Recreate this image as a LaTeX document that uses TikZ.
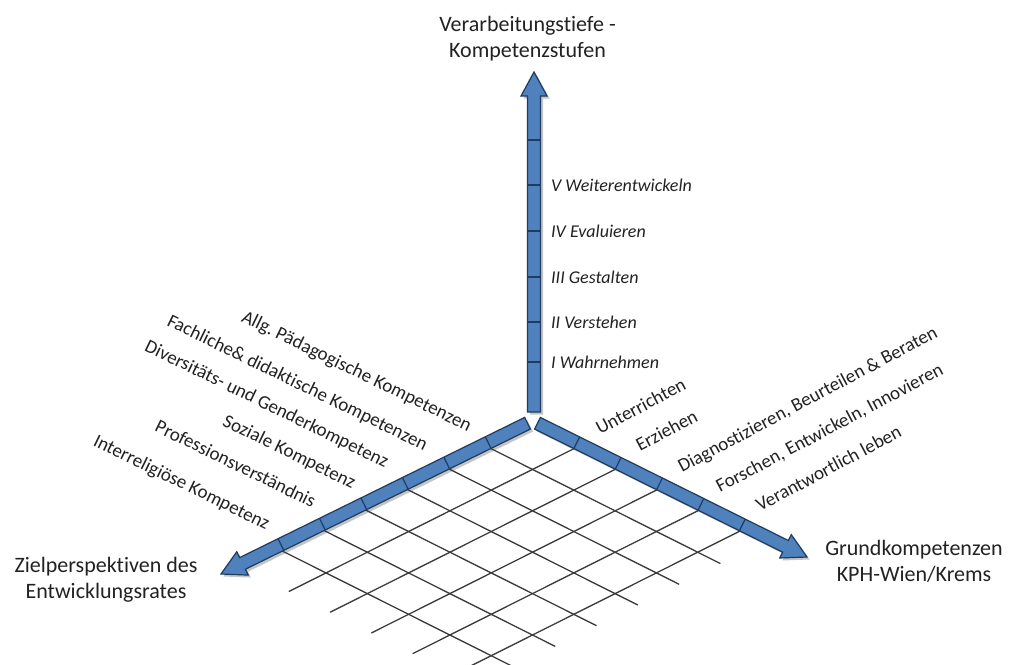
\documentclass[tikz,border=0pt]{standalone}
\usepackage{fontspec}
\setmainfont{Carlito}[Ligatures=NoCommon]
\usetikzlibrary{calc}
\definecolor{arrowfill}{HTML}{4F81BD}
\definecolor{arrowline}{HTML}{1F3B5E}
\definecolor{gridc}{HTML}{3A3A3A}
\definecolor{txtc}{HTML}{222222}
\definecolor{shadowc}{HTML}{404040}
\tikzset{
  arrowbody/.style={fill=arrowfill, draw=arrowline, line width=1.2pt, line join=miter},
  arrowshadow/.style={fill=shadowc, opacity=0.3},
  tickln/.style={draw=arrowline, line width=1.2pt},
  gridln/.style={draw=gridc, line width=1.3pt},
  titletxt/.style={font=\fontsize{22}{26}\selectfont, text=txtc, align=center, inner sep=0pt},
  levellbl/.style={font=\fontsize{18}{20}\selectfont\itshape, text=txtc, anchor=west, inner sep=0pt},
  leftlbl/.style={font=\fontsize{19}{20}\selectfont, text=txtc, anchor=base east, inner sep=0pt, rotate=-26},
  rightlbl/.style={font=\fontsize{19}{20}\selectfont, text=txtc, anchor=base west, inner sep=0pt, rotate=28},
}
% corner points of a block arrow from #1 to #2
\newcommand\mkarrow[2]{%
  \coordinate (#1hb) at ($(#2)!24pt!(#1)$);
  \coordinate (#1p1) at ($(#1)!6.5pt!90:(#2)$);
  \coordinate (#1p2) at ($(#1hb)!6.5pt!-90:(#1)$);
  \coordinate (#1p3) at ($(#1hb)!13pt!-90:(#1)$);
  \coordinate (#1p4) at ($(#1hb)!13pt!90:(#1)$);
  \coordinate (#1p5) at ($(#1hb)!6.5pt!90:(#1)$);
  \coordinate (#1p6) at ($(#1)!6.5pt!-90:(#2)$);
}
\newcommand\shadowblk[2]{%
  \begin{scope}[transform canvas={xshift=2.5pt,yshift=-2.5pt}]
    \fill[arrowshadow] (#1p1) -- (#1p2) -- (#1p3) -- (#2) -- (#1p4) -- (#1p5) -- (#1p6) -- cycle;
  \end{scope}
}
\newcommand\drawblk[2]{%
  \filldraw[arrowbody] (#1p1) -- (#1p2) -- (#1p3) -- (#2) -- (#1p4) -- (#1p5) -- (#1p6) -- cycle;
}
\begin{document}
\begin{tikzpicture}[x=1pt,y=-1pt]
\useasboundingbox (0,0) rectangle (1011,664);
\fill[white] (0,0) rectangle (1011,664);

% origin of the ground plane
\coordinate (G) at (532.5,428);

% grid
\begin{scope}
  \clip (0,0) rectangle (1011,664);
  \foreach \i in {1,...,6}
    \draw[gridln] ($(G)+\i*(-41.3,20.7)+(-6.2,-3.1)$) -- ($(G)+\i*(-41.3,20.7)+5.55*(41.3,20.7)$);
  \foreach \j in {1,...,5}
    \draw[gridln] ($(G)+\j*(41.3,20.7)+(6.2,-3.1)$) -- ($(G)+\j*(41.3,20.7)+6.9*(-41.3,20.7)$);
\end{scope}

% arrow ends
\coordinate (Sv) at (534,412);
\coordinate (Tv) at (534,72);
\coordinate (Sr) at ($(G)+0.05*(41.3,20.7)+(2.9,-5.8)$);
\coordinate (Tr) at (807,557);
\coordinate (Sl) at ($(G)+0.05*(-41.3,20.7)+(-2.9,-5.8)$);
\coordinate (Tl) at (221,574);

\mkarrow{Sv}{Tv}
\mkarrow{Sr}{Tr}
\mkarrow{Sl}{Tl}

\shadowblk{Sv}{Tv}
\shadowblk{Sr}{Tr}
\shadowblk{Sl}{Tl}
\drawblk{Sv}{Tv}
\drawblk{Sr}{Tr}
\drawblk{Sl}{Tl}

% ticks on the vertical arrow
\foreach \y in {140,185,231,277,322,362}
  \draw[tickln] (527.5,\y) -- (540.5,\y);

% ticks on the right arrow
\foreach \j in {1,...,5} {
  \coordinate (rp\j) at ($(G)+\j*(41.3,20.7)+(2.9,-5.8)$);
  \coordinate (rt\j) at ($(Sr)!(rp\j)!(Tr)$);
  \draw[tickln] ($(rt\j)!6.5pt!90:(Tr)$) -- ($(rt\j)!6.5pt!-90:(Tr)$);
}
% ticks on the left arrow
\foreach \i in {1,...,6} {
  \coordinate (lp\i) at ($(G)+\i*(-41.3,20.7)+(-2.9,-5.8)$);
  \coordinate (lt\i) at ($(Sl)!(lp\i)!(Tl)$);
  \draw[tickln] ($(lt\i)!6.5pt!90:(Tl)$) -- ($(lt\i)!6.5pt!-90:(Tl)$);
}

% axis titles
\node[titletxt] (ztitle) at (527.5,39) {Verarbeitungstiefe -\\Kompetenzstufen};
\node[titletxt] (ltitle) at (106,580) {Zielperspektiven des\\Entwicklungsrates};
\node[titletxt] (rtitle) at (914,561) {Grundkompetenzen\\KPH-Wien/Krems};

% level labels
\node[levellbl] (lv5) at (551,185) {V Weiterentwickeln};
\node[levellbl] (lv4) at (551,231) {IV Evaluieren};
\node[levellbl] (lv3) at (551,277) {III Gestalten};
\node[levellbl] (lv2) at (551,322) {II Verstehen};
\node[levellbl] (lv1) at (551,362) {I Wahrnehmen};

% left labels
\node[leftlbl] (ll1) at (468,432) {Allg.\ Pädagogische Kompetenzen};
\node[leftlbl] (ll2) at (424,451) {Fachliche\& didaktische Kompetenzen};
\node[leftlbl] (ll3) at (385,468) {Diversitäts- und Genderkompetenz};
\node[leftlbl] (ll4) at (352,489) {Soziale Kompetenz};
\node[leftlbl] (ll5) at (312,508) {Professionsverständnis};
\node[leftlbl] (ll6) at (266,530) {Interreligiöse Kompetenz};

% right labels
\node[rightlbl] (rl1) at (600,435) {Unterrichten};
\node[rightlbl] (rl2) at (640,452) {Erziehen};
\node[rightlbl] (rl3) at (682,473) {Diagnostizieren, Beurteilen \& Beraten};
\node[rightlbl] (rl4) at (720,493) {Forschen, Entwickeln, Innovieren};
\node[rightlbl] (rl5) at (760,512) {Verantwortlich leben};
\end{tikzpicture}
\end{document}
